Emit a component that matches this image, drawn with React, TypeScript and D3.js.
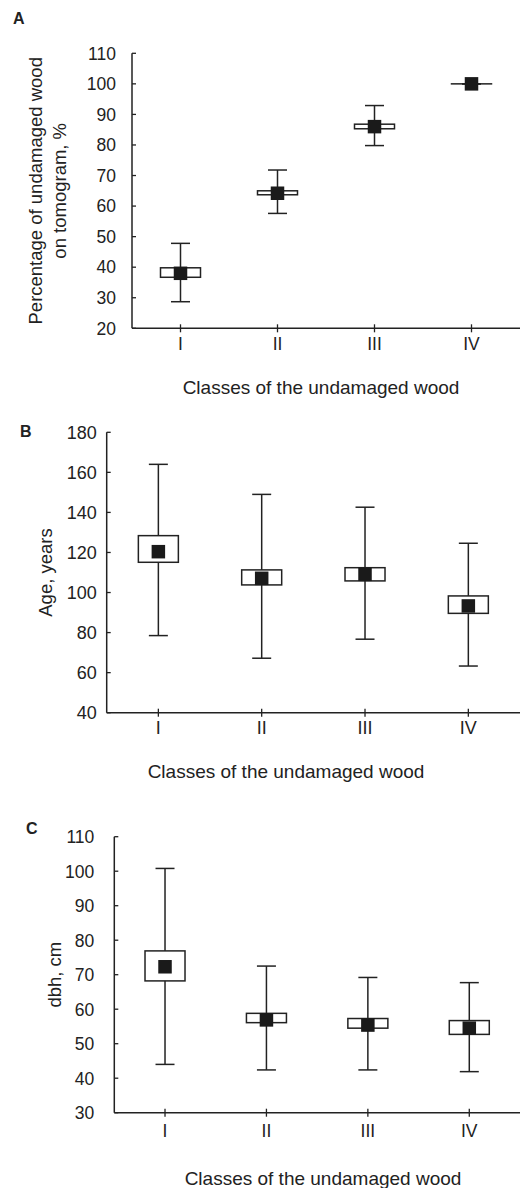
import React from "react";
import * as d3 from "d3";

// shared categories
const categories = ["I", "II", "III", "IV"];
const xTitle = "Classes of the undamaged wood";

// A - percentage of undamaged wood on tomogram
const pctTicks = [20, 30, 40, 50, 60, 70, 80, 90, 100, 110];
const pctWhiskerLow = [28.7, 57.6, 79.8, 100];
const pctBoxLow = [36.7, 63.7, 85.3, 100];
const pctMean = [38, 64.2, 86, 100];
const pctBoxHigh = [39.8, 65, 86.8, 100];
const pctWhiskerHigh = [47.8, 71.8, 92.9, 100];

// B - age
const ageTicks = [40, 60, 80, 100, 120, 140, 160, 180];
const ageWhiskerLow = [78.5, 67.2, 76.7, 63.3];
const ageBoxLow = [115.1, 103.8, 105.8, 89.6];
const ageMean = [120.4, 107.1, 109.1, 93.3];
const ageBoxHigh = [128.4, 111.3, 112.4, 98.3];
const ageWhiskerHigh = [164, 149, 142.6, 124.6];

// C - dbh
const dbhTicks = [30, 40, 50, 60, 70, 80, 90, 100, 110];
const dbhWhiskerLow = [44, 42.4, 42.4, 41.9];
const dbhBoxLow = [68.2, 56.1, 54.5, 52.7];
const dbhMean = [72.3, 56.9, 55.4, 54.5];
const dbhBoxHigh = [76.9, 58.8, 57.3, 56.7];
const dbhWhiskerHigh = [100.8, 72.5, 69.2, 67.7];

const FONT = "'Liberation Sans', Arial, Helvetica, sans-serif";
const INK = "#222";

type Panel = {
  letter: string;
  letterX: number;
  letterY: number;
  left: number;
  right: number;
  top: number;
  bottom: number;
  ticks: number[];
  tickFont: number;
  labelGap: number;
  yTitle: string[];
  yTitleX: number;
  catY: number;
  titleY: number;
  titleX: number;
  lo: number[];
  q1: number[];
  mean: number[];
  q3: number[];
  hi: number[];
};

const panels: Panel[] = [
  {
    letter: "A", letterX: 13, letterY: 24,
    left: 132, right: 520, top: 53.3, bottom: 328.3,
    ticks: pctTicks, tickFont: 17.5, labelGap: 16,
    yTitle: ["Percentage of undamaged wood", "on tomogram, %"], yTitleX: 48,
    catY: 350, titleY: 394, titleX: 321,
    lo: pctWhiskerLow, q1: pctBoxLow, mean: pctMean, q3: pctBoxHigh, hi: pctWhiskerHigh,
  },
  {
    letter: "B", letterX: 20, letterY: 437,
    left: 106.7, right: 520, top: 432.3, bottom: 712.7,
    ticks: ageTicks, tickFont: 18, labelGap: 10,
    yTitle: ["Age, years"], yTitleX: 46,
    catY: 734, titleY: 778, titleX: 286,
    lo: ageWhiskerLow, q1: ageBoxLow, mean: ageMean, q3: ageBoxHigh, hi: ageWhiskerHigh,
  },
  {
    letter: "C", letterX: 26, letterY: 834,
    left: 114.3, right: 520, top: 836.7, bottom: 1112.7,
    ticks: dbhTicks, tickFont: 17.5, labelGap: 20,
    yTitle: ["dbh, cm"], yTitleX: 55,
    catY: 1137, titleY: 1185, titleX: 323,
    lo: dbhWhiskerLow, q1: dbhBoxLow, mean: dbhMean, q3: dbhBoxHigh, hi: dbhWhiskerHigh,
  },
];

function BoxPanel({ p }: { p: Panel }) {
  const x = d3.scaleBand<string>().domain(categories).range([p.left, p.right]);
  const y = d3
    .scaleLinear()
    .domain([p.ticks[0], p.ticks[p.ticks.length - 1]])
    .range([p.bottom, p.top]);
  const boxW = 40;
  const capW = 19;
  const markW = 13.5;
  const midY = (p.top + p.bottom) / 2;
  const lineH = 24;
  const sw = 1.5;

  return (
    <g>
      <text x={p.letterX} y={p.letterY} fontSize={16} fontWeight="bold" fill={INK}>
        {p.letter}
      </text>

      {/* y axis */}
      <line x1={p.left} x2={p.left} y1={p.top} y2={p.bottom} stroke={INK} strokeWidth={sw} />
      {p.ticks.map((t) => (
        <g key={t}>
          <line x1={p.left} x2={p.left + 4} y1={y(t)} y2={y(t)} stroke={INK} strokeWidth={1.3} />
          <text
            x={p.left - p.labelGap}
            y={y(t)}
            dy="0.36em"
            textAnchor="end"
            fontSize={p.tickFont}
            fill={INK}
          >
            {t}
          </text>
        </g>
      ))}

      {/* x axis */}
      <line x1={p.left} x2={p.right} y1={p.bottom} y2={p.bottom} stroke={INK} strokeWidth={sw} />
      {categories.map((c) => {
        const cx = x(c)! + x.bandwidth() / 2;
        return (
          <g key={c}>
            <line x1={cx} x2={cx} y1={p.bottom - 4} y2={p.bottom + 4} stroke={INK} strokeWidth={1.3} />
            <text x={cx} y={p.catY} textAnchor="middle" fontSize={p.tickFont} fill={INK}>
              {c}
            </text>
          </g>
        );
      })}

      {/* boxes */}
      {categories.map((c, i) => {
        const cx = x(c)! + x.bandwidth() / 2;
        return (
          <g key={"b" + c}>
            <line x1={cx} x2={cx} y1={y(p.hi[i])} y2={y(p.lo[i])} stroke={INK} strokeWidth={sw} />
            <line x1={cx - capW / 2} x2={cx + capW / 2} y1={y(p.hi[i])} y2={y(p.hi[i])} stroke={INK} strokeWidth={sw} />
            <line x1={cx - capW / 2} x2={cx + capW / 2} y1={y(p.lo[i])} y2={y(p.lo[i])} stroke={INK} strokeWidth={sw} />
            <rect
              x={cx - boxW / 2}
              y={y(p.q3[i])}
              width={boxW}
              height={Math.max(0.01, y(p.q1[i]) - y(p.q3[i]))}
              fill="#fff"
              stroke={INK}
              strokeWidth={sw}
            />
            <rect
              x={cx - markW / 2}
              y={y(p.mean[i]) - markW / 2}
              width={markW}
              height={markW}
              fill="#1a1a1a"
            />
          </g>
        );
      })}

      {/* y title */}
      <text
        transform={`translate(${p.yTitleX - ((p.yTitle.length - 1) * lineH) / 2},${midY}) rotate(-90)`}
        textAnchor="middle"
        fontSize={18.5}
        fill={INK}
      >
        {p.yTitle.map((l, k) => (
          <tspan key={k} x={0} y={k * lineH} dy="0.35em">
            {l}
          </tspan>
        ))}
      </text>

      {/* x title */}
      <text x={p.titleX} y={p.titleY} textAnchor="middle" fontSize={19} fill={INK}>
        {xTitle}
      </text>
    </g>
  );
}

export default function App() {
  return (
    <svg
      width={526}
      height={1188}
      style={{ position: "absolute", left: 0, top: 0, background: "#fff" }}
      fontFamily={FONT}
    >
      <rect width={526} height={1188} fill="#fff" />
      {panels.map((p) => (
        <BoxPanel key={p.letter} p={p} />
      ))}
    </svg>
  );
}
